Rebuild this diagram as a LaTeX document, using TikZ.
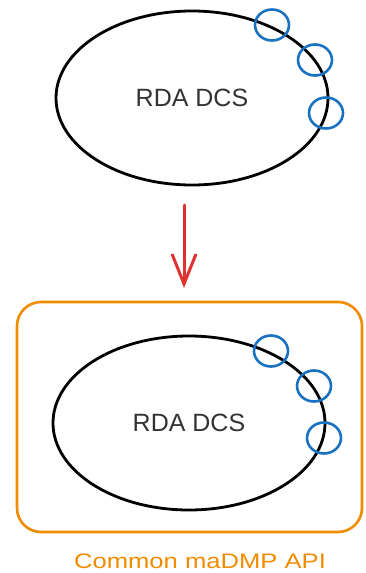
\documentclass[tikz,border=0pt]{standalone}
\usepackage{fontspec}
\setmainfont{Liberation Sans}
\usetikzlibrary{shapes.geometric,arrows.meta}
\definecolor{exblue}{HTML}{1971C2}
\definecolor{exorange}{HTML}{F08C00}
\definecolor{exred}{HTML}{E03131}
\definecolor{extext}{HTML}{333333}
\tikzset{
  dcs/.style={ellipse, draw=black, line width=2.8pt, inner sep=0pt,
    minimum width=272pt, minimum height=174pt, text=extext,
    font=\fontsize{25}{28}\selectfont},
  port/.style={ellipse, draw=exblue, line width=2.6pt, inner sep=0pt,
    minimum width=34pt, minimum height=31pt},
  apibox/.style={draw=exorange, line width=2.6pt, rounded corners=24pt},
  flow/.style={draw=exred, line width=3pt, line cap=round,
    -{Straight Barb[length=30pt,width=24pt,line width=3pt]}},
}
\begin{document}
\begin{tikzpicture}[x=1pt,y=-1pt]
\useasboundingbox (0,0) rectangle (365,573);
% top
\node[dcs] (top) at (192,98) {RDA DCS};
\node[port] (t1) at (272,25) {};
\node[port] (t2) at (315,60) {};
\node[port] (t3) at (326,113) {};
% arrow
\coordinate (astart) at (184,205);
\coordinate (aend) at (184,288);
\draw[flow] (astart) -- (aend);
% bottom
\draw[apibox] (17,302) rectangle (362,532);
\node[dcs] (bot) at (189,423) {RDA DCS};
\node[port] (b1) at (271,351) {};
\node[port] (b2) at (314,386) {};
\node[port] (b3) at (324,438) {};
\node[text=exorange, font=\fontsize{21}{24}\selectfont] (lbl) at (200,561)
  {\scalebox{1.22}[1]{Common maDMP API}};
\end{tikzpicture}
\end{document}
